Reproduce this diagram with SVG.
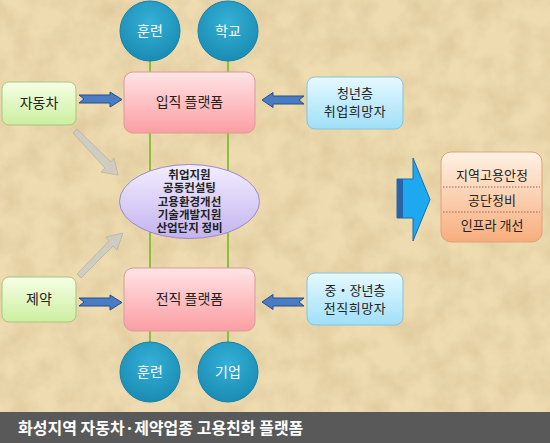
<svg xmlns="http://www.w3.org/2000/svg" width="550" height="443" viewBox="0 0 550 443">
<defs>
<filter id="tex" x="0" y="0" width="100%" height="100%">
<feTurbulence type="fractalNoise" baseFrequency="0.035" numOctaves="4" seed="7" result="n"/>
<feColorMatrix in="n" type="matrix" values="0 0 0 0 0.55  0 0 0 0 0.42  0 0 0 0 0.2  0 0 0 -1.6 1.05" result="c"/>
<feComposite in="c" in2="SourceGraphic" operator="in"/>
</filter>
<linearGradient id="gPink" x1="0" y1="0" x2="0" y2="1"><stop offset="0" stop-color="#ffe4e6"/><stop offset="1" stop-color="#fb9ea2"/></linearGradient>
<linearGradient id="gGreen" x1="0" y1="0" x2="0" y2="1"><stop offset="0" stop-color="#f6ffe6"/><stop offset="1" stop-color="#cdeea0"/></linearGradient>
<linearGradient id="gBlue" x1="0" y1="0" x2="0" y2="1"><stop offset="0" stop-color="#e6f9ff"/><stop offset="1" stop-color="#9fdff7"/></linearGradient>
<linearGradient id="gLav" x1="0" y1="0" x2="0" y2="1"><stop offset="0" stop-color="#f3eeff"/><stop offset="1" stop-color="#c3b3ee"/></linearGradient>
<linearGradient id="gOr" x1="0" y1="0" x2="0" y2="1"><stop offset="0" stop-color="#fff2e4"/><stop offset="1" stop-color="#f7ad7c"/></linearGradient>
<radialGradient id="gCirc" cx="0.5" cy="0.35" r="0.65"><stop offset="0" stop-color="#34b0d6"/><stop offset="1" stop-color="#1a8cb4"/></radialGradient>
<style>
.lbl{font-family:"Noto Sans CJK KR","Noto Sans",sans-serif;fill:#222;text-anchor:middle}
.ctext{font-family:"Noto Sans CJK KR","Noto Sans",sans-serif;fill:#fff;text-anchor:middle;font-size:14px}
.circ{fill:url(#gCirc);stroke:#1580a8;stroke-width:1}
.bluearr{fill:#4a7cc4;stroke:#2a4c88;stroke-width:1}
.grayarr{fill:#cbcbc4;stroke:#b4b4ac;stroke-width:1;opacity:0.85}
.vline{stroke:#8cbf3c;stroke-width:2}
</style>
</defs>
<rect x="0" y="0" width="550" height="443" fill="#eedbb0"/>
<rect x="0" y="0" width="550" height="443" fill="#eedbb0" filter="url(#tex)" opacity="0.4"/>

<g id="connectors">
<line class="vline" x1="150" y1="58" x2="150" y2="345"/>
<line class="vline" x1="228" y1="58" x2="228" y2="345"/>
<path class="bluearr" d="M79,95 L110,95 L110,92 L122,99.5 L110,107 L110,103 L79,103 L84,99 Z"/>
<path class="bluearr" d="M79,298 L110,298 L110,295 L122,302.5 L110,310 L110,306 L79,306 L84,302 Z"/>
<path class="bluearr" d="M304,96 L273,96 L273,92.5 L262,100 L273,107.5 L273,104 L304,104 L299,100 Z"/>
<path class="bluearr" d="M304,298 L273,298 L273,294.5 L262,302 L273,309.5 L273,306 L304,306 L299,302 Z"/>
<path class="grayarr" d="M73,133 L77,129 L111,162 L114,158 L118,175 L101,172 L105,168 Z"/>
<path class="grayarr" d="M77,274 L81,278 L113,246 L117,250 L123,233 L106,237 L109,241 Z"/>
<path d="M397,179 L413,179 L413,158 L430,199.5 L413,241 L413,218 L397,218 Z" fill="#1ea8f0" stroke="#1a6cb0" stroke-width="1"/>
<rect x="397" y="179" width="6" height="39" fill="#2a64a8"/>
</g>

<g id="top-circle-1"><circle class="circ" cx="150" cy="31" r="30"/><text class="ctext" x="150" y="36">훈련</text></g>
<g id="top-circle-2"><circle class="circ" cx="228" cy="31" r="30"/><text class="ctext" x="228" y="36">학교</text></g>
<g id="bottom-circle-1"><circle class="circ" cx="150" cy="372" r="30"/><text class="ctext" x="150" y="377">훈련</text></g>
<g id="bottom-circle-2"><circle class="circ" cx="228" cy="372" r="30"/><text class="ctext" x="228" y="377">기업</text></g>

<g id="entry-platform"><rect x="124" y="72" width="131" height="61" rx="9" fill="url(#gPink)" stroke="#d99a9c"/><text class="lbl" x="189.5" y="107" font-size="14">입직 플랫폼</text></g>
<g id="transfer-platform"><rect x="124" y="268" width="131" height="63" rx="9" fill="url(#gPink)" stroke="#d99a9c"/><text class="lbl" x="189.5" y="304" font-size="14">전직 플랫폼</text></g>

<g id="auto"><rect x="2" y="82" width="74" height="43" rx="7" fill="url(#gGreen)" stroke="#a9c57c"/><text class="lbl" x="39" y="108" font-size="14">자동차</text></g>
<g id="pharma"><rect x="2" y="277" width="74" height="45" rx="7" fill="url(#gGreen)" stroke="#a9c57c"/><text class="lbl" x="39" y="304" font-size="14">제약</text></g>

<g id="youth"><rect x="307" y="77" width="96" height="52" rx="8" fill="url(#gBlue)" stroke="#86c4dc"/><text class="lbl" x="355" y="98" font-size="13">청년층</text><text class="lbl" x="355" y="116" font-size="13" letter-spacing="0.5">취업희망자</text></g>
<g id="middle-aged"><rect x="307" y="273" width="96" height="52" rx="8" fill="url(#gBlue)" stroke="#86c4dc"/><text class="lbl" x="355" y="295" font-size="13">중・장년층</text><text class="lbl" x="355" y="313" font-size="13" letter-spacing="0.5">전직희망자</text></g>

<g id="support"><ellipse cx="189.5" cy="201.5" rx="70" ry="37" fill="url(#gLav)" stroke="#9a8ac8"/>
<text class="lbl" font-size="11.5" font-weight="bold" fill="#1a1a1a"><tspan x="189.5" y="179">취업지원</tspan><tspan x="189.5" y="192.3">공동컨설팅</tspan><tspan x="189.5" y="205.6">고용환경개선</tspan><tspan x="189.5" y="218.9">기술개발지원</tspan><tspan x="189.5" y="232.2">산업단지 정비</tspan></text></g>

<g id="outcomes"><rect x="441" y="152" width="101" height="90" rx="10" fill="url(#gOr)" stroke="#e0a080"/>
<line x1="443" y1="187" x2="540" y2="187" stroke="#8a6a5a" stroke-dasharray="1.5,1.5"/>
<line x1="443" y1="212" x2="540" y2="212" stroke="#8a6a5a" stroke-dasharray="1.5,1.5"/>
<text class="lbl" x="492" y="180" font-size="13">지역고용안정</text><text class="lbl" x="492" y="205" font-size="13">공단정비</text><text class="lbl" x="492" y="230" font-size="13">인프라 개선</text></g>

<g id="title"><rect x="0" y="412" width="550" height="31" fill="#595959"/><text x="18" y="434" font-family="'Noto Sans CJK KR','Noto Sans',sans-serif" font-size="16" font-weight="bold" fill="#fff">화성지역 자동차·제약업종 고용친화 플랫폼</text></g>
</svg>
